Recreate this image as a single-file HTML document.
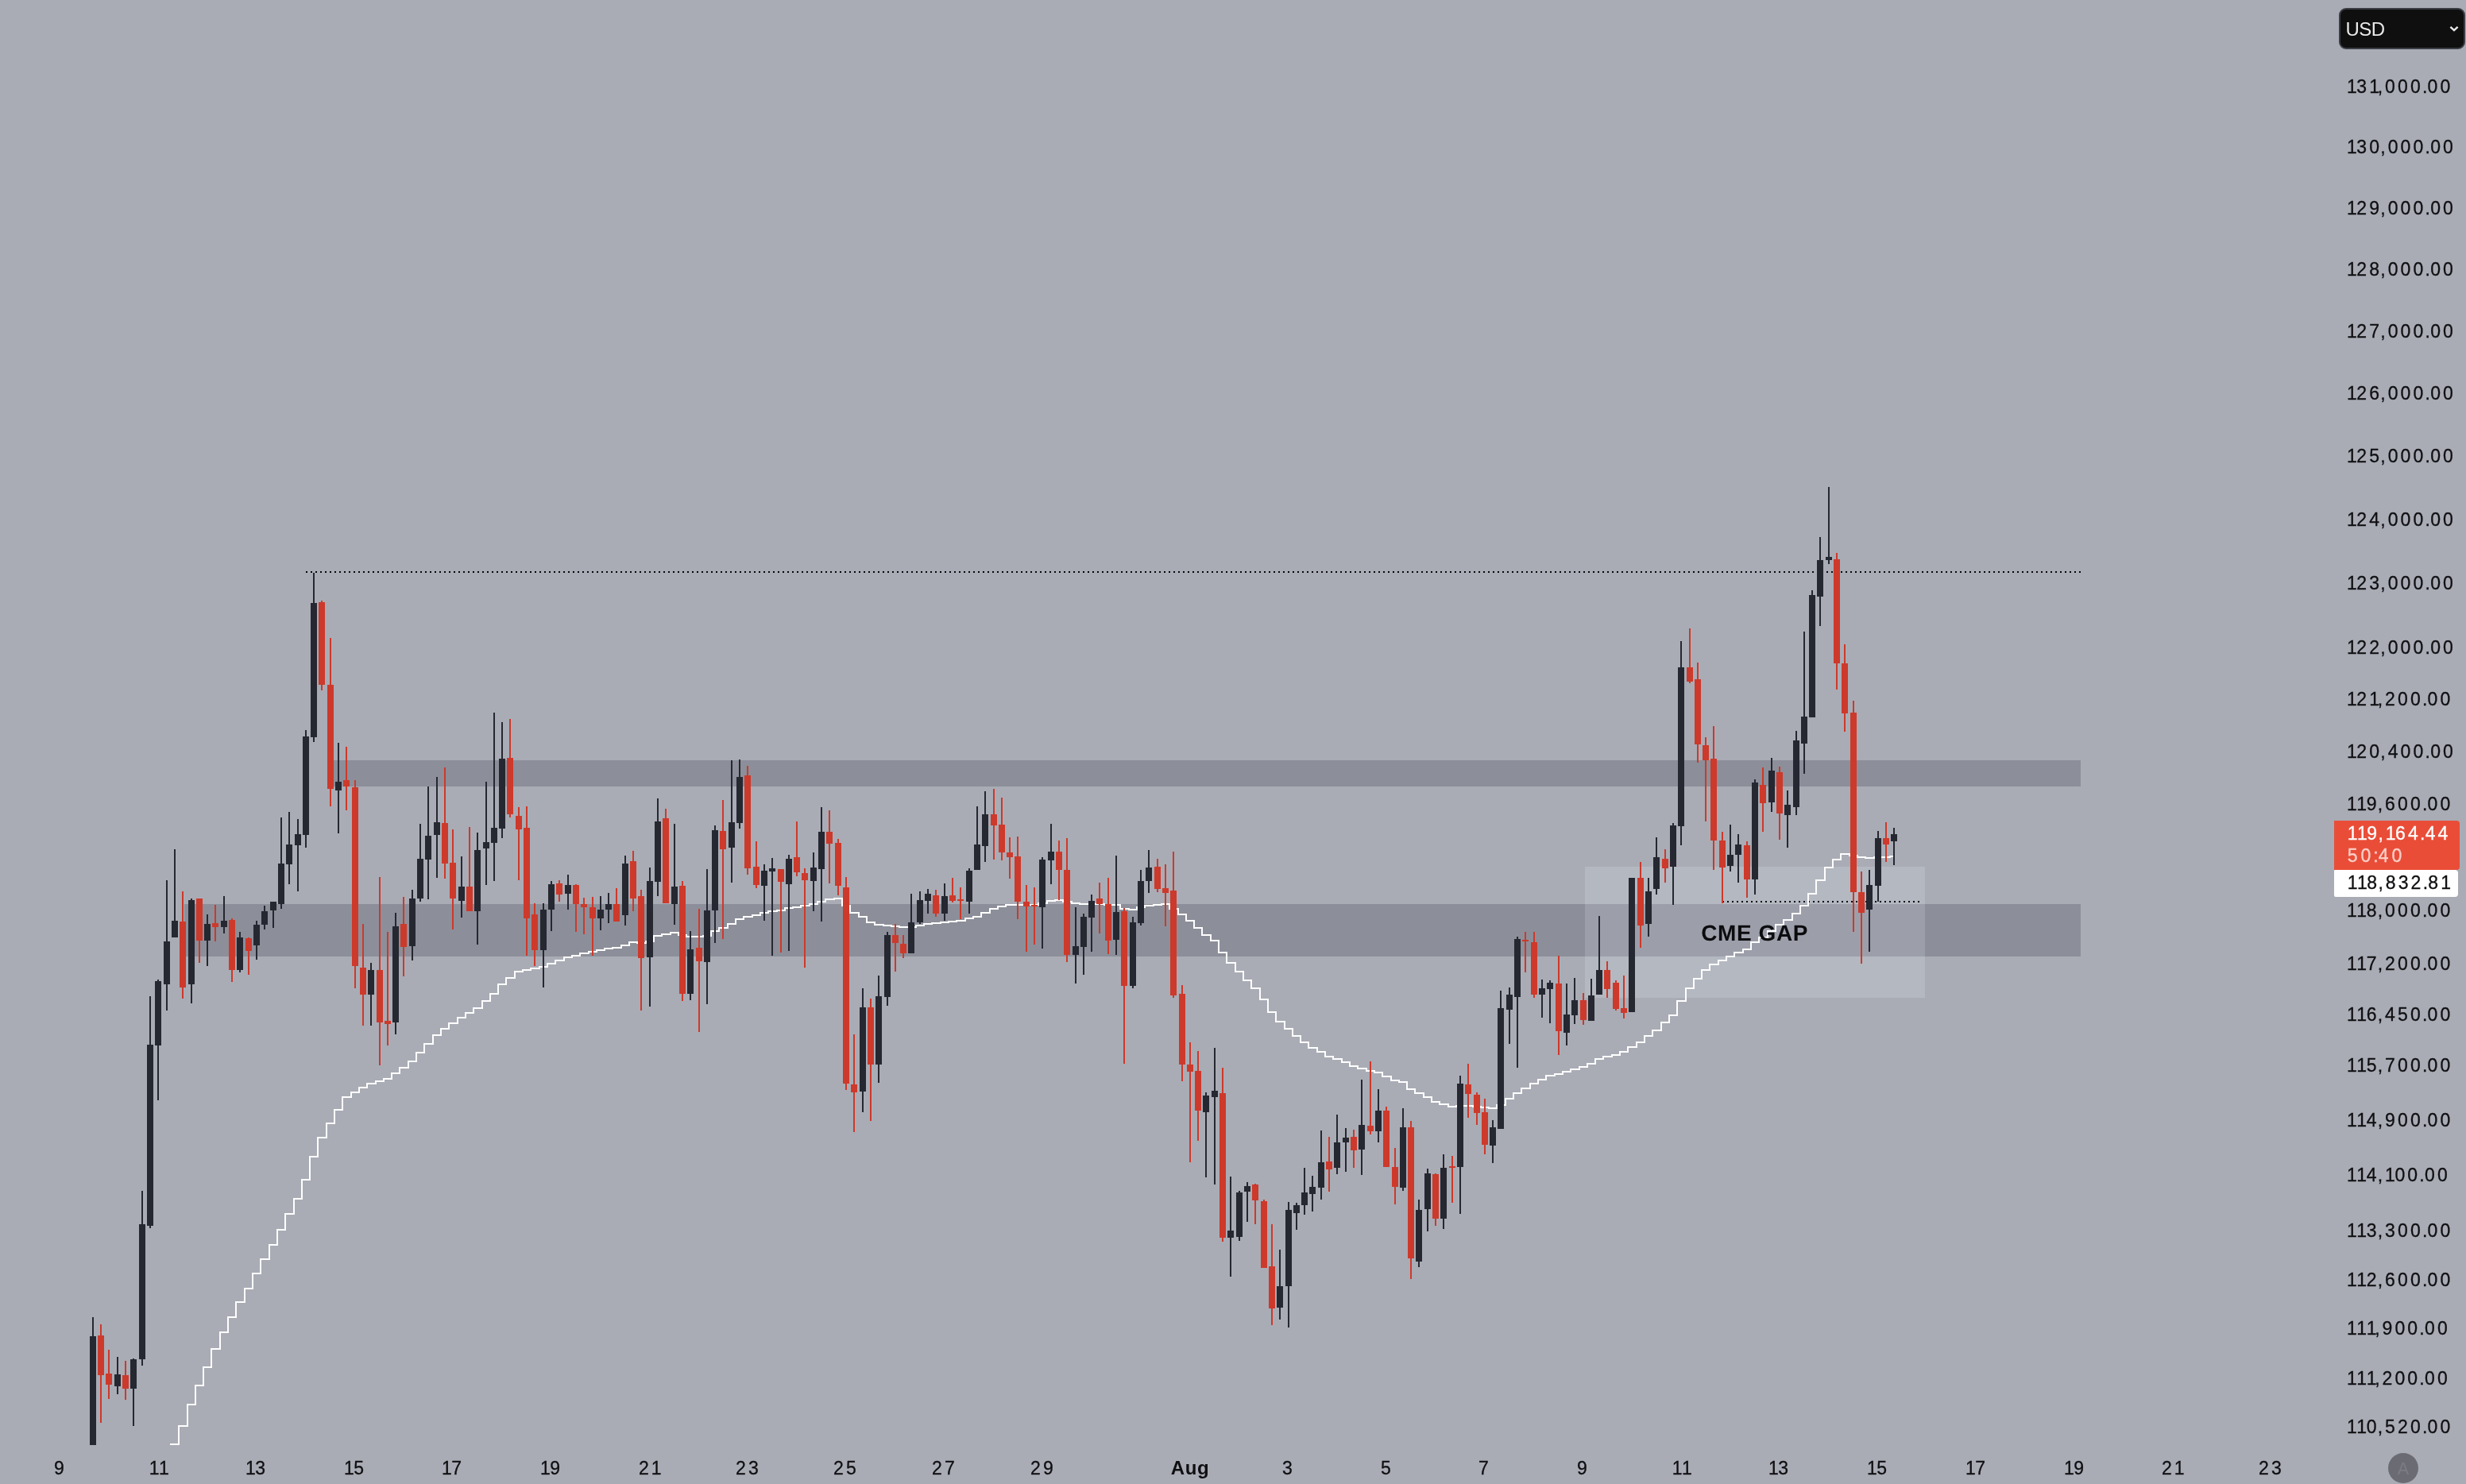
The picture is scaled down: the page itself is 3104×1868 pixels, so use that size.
<!DOCTYPE html><html><head><meta charset="utf-8"><title>chart</title><style>
html,body{margin:0;padding:0;background:#a9acb5;}
body{width:3104px;height:1868px;position:relative;overflow:hidden;font-family:"Liberation Sans",sans-serif;font-kerning:none;}
.p{position:absolute;left:2953.9px;font-size:23px;line-height:28px;height:28px;color:#0f0f12;letter-spacing:3.11px;white-space:nowrap;}
.d{position:absolute;top:1834.3px;width:120px;margin-left:-59px;text-align:center;font-size:23px;line-height:28px;color:#0f0f12;letter-spacing:3.11px;white-space:nowrap;}
.usd{position:absolute;left:2944px;top:10px;width:159px;height:52px;box-sizing:border-box;background:#0f0f0f;border:2px solid #3b3d44;border-radius:9px;color:#e9e9e9;font-size:24px;line-height:49px;padding-left:6.5px;letter-spacing:-0.6px;}
.red{position:absolute;left:2938px;top:1033px;width:158px;height:62px;background:#e94d38;border-radius:0 4px 4px 0;color:#fff;}
.red div{position:absolute;left:16.7px;font-size:23px;line-height:28px;letter-spacing:3.11px;white-space:nowrap;}
.wht{position:absolute;left:2938px;top:1095px;width:156px;height:34px;background:#fff;border-radius:1px 4px 4px 2px;color:#0f0f12;}
.wht div{position:absolute;left:16.7px;top:2px;font-size:23px;line-height:28px;letter-spacing:3.11px;white-space:nowrap;}
.cme{position:absolute;left:2108px;top:1159px;width:200px;text-align:center;font-weight:bold;font-size:25.5px;line-height:30px;letter-spacing:2.2px;color:#0c0c0f;white-space:nowrap;}
.a{position:absolute;left:3006px;top:1829px;width:38px;height:38px;border-radius:19px;background:#6b6c73;color:#7b7c84;font-size:21.5px;line-height:40px;text-align:center;}

.p,.d,.usd,.red,.wht,.cme,.a{will-change:transform;}
i{font-style:normal;letter-spacing:-0.49px}u{text-decoration:none;letter-spacing:0.28px;margin-left:-0.9px}s{text-decoration:none;letter-spacing:2.98px;margin-left:-1.8px}.p,.d,.red div,.wht div{-webkit-text-stroke:0.3px currentColor}
</style></head><body>
<svg width="3104" height="1868" viewBox="0 0 3104 1868" style="position:absolute;left:0;top:0;will-change:transform">
<defs><clipPath id="pane"><rect x="0" y="0" width="2930" height="1819"/></clipPath></defs>
<g clip-path="url(#pane)" shape-rendering="crispEdges">
<rect x="420" y="957" width="2199" height="33" fill="#8c8f99"/>
<rect x="232" y="1138" width="2387" height="66" fill="#8c8f99"/>
<rect x="1995" y="1091" width="428" height="165" fill="#f0f4ff" fill-opacity="0.17"/>
<g stroke="#050508" stroke-width="2" stroke-dasharray="2 4">
<line x1="385" y1="720" x2="2619" y2="720"/>
<line x1="2168" y1="1135" x2="2416" y2="1135"/>
</g>
<path d="M214 1818H225V1795H236V1768H246V1744H256V1721H266V1698H277V1677H287V1658H297V1639H308V1622H318V1603H328V1585H339V1567H349V1548H359V1528H370V1509H380V1485H390V1456H400V1432H411V1414H421V1397H431V1381H442V1375H452V1369H462V1364H473V1361H483V1358H493V1351H503V1344H514V1336H524V1325H534V1314H545V1303H555V1295H565V1288H576V1281H586V1275H596V1269H607V1260H617V1251H627V1239H637V1231H648V1223H658V1221H668V1219H679V1217H689V1213H699V1209H710V1205H720V1203H730V1200H741V1198H751V1196H761V1194H771V1193H782V1190H792V1186H802V1187H813V1185H823V1178H833V1176H844V1174H854V1177H864V1179H875V1179H885V1178H895V1172H905V1168H916V1163H926V1157H936V1154H947V1152H957V1149H967V1147H978V1146H988V1143H998V1142H1008V1140H1019V1138H1029V1135H1039V1132H1050V1131H1060V1140H1070V1149H1081V1154H1091V1161H1101V1164H1112V1165H1122V1166H1132V1167H1142V1167H1153V1165H1163V1163H1173V1162H1184V1161H1194V1160H1204V1159H1215V1156H1225V1154H1235V1149H1246V1144H1256V1141H1266V1139H1276V1139H1287V1139H1297V1139H1307V1137H1318V1134H1328V1133H1338V1135H1349V1137H1359V1138H1369V1138H1379V1138H1390V1139H1400V1139H1410V1144H1421V1145H1431V1142H1441V1140H1452V1139H1462V1138H1472V1144H1483V1151H1493V1159H1503V1168H1513V1177H1524V1184H1534V1199H1544V1212H1555V1223H1565V1234H1575V1244H1586V1258H1596V1274H1606V1286H1617V1295H1627V1304H1637V1312H1647V1319H1658V1324H1668V1330H1678V1333H1689V1337H1699V1342H1709V1345H1720V1348H1730V1350H1740V1355H1751V1360H1761V1362H1771V1371H1781V1376H1792V1381H1802V1387H1812V1390H1823V1393H1833V1392H1843V1392H1854V1393H1864V1394H1874V1395H1884V1391H1895V1383H1905V1376H1915V1370H1926V1364H1936V1359H1946V1354H1957V1352H1967V1349H1977V1346H1988V1343H1998V1339H2008V1333H2018V1330H2029V1328H2039V1324H2049V1318H2060V1312H2070V1304H2080V1297H2091V1287H2101V1278H2111V1260H2122V1244H2132V1232H2142V1221H2152V1214H2163V1209H2173V1204H2183V1199H2194V1195H2204V1186H2214V1180H2225V1172H2235V1164H2245V1158H2256V1150H2266V1140H2276V1125H2286V1108H2297V1092H2307V1082H2317V1075H2328V1077H2338V1079H2348V1080H2359V1079H2369V1079H2379V1078H2383" fill="none" stroke="#ffffff" stroke-width="2" stroke-linejoin="miter"/>
<text x="2208.6" y="1183.7" text-anchor="middle" font-family="Liberation Sans, sans-serif" font-weight="bold" font-size="28" letter-spacing="0.6" fill="#0c0c0f" style="shape-rendering:auto;text-rendering:geometricPrecision">CME GAP</text>
<path fill="#252831" d="M116 1658h2V1819h-2zM147 1708h2V1755h-2zM167 1710h2V1795h-2zM178 1499h2V1719h-2zM188 1254h2V1546h-2zM198 1233h2V1385h-2zM209 1108h2V1272h-2zM219 1069h2V1180h-2zM240 1131h2V1263h-2zM260 1151h2V1216h-2zM281 1128h2V1175h-2zM301 1173h2V1224h-2zM322 1159h2V1208h-2zM332 1140h2V1170h-2zM343 1135h2V1168h-2zM353 1029h2V1144h-2zM363 1022h2V1113h-2zM374 1031h2V1122h-2zM384 919h2V1067h-2zM394 721h2V934h-2zM425 935h2V1049h-2zM466 1212h2V1291h-2zM497 1149h2V1302h-2zM518 1120h2V1209h-2zM528 1037h2V1135h-2zM538 990h2V1132h-2zM549 978h2V1105h-2zM580 1078h2V1155h-2zM600 1048h2V1189h-2zM611 984h2V1114h-2zM621 897h2V1109h-2zM631 909h2V1055h-2zM683 1137h2V1243h-2zM693 1109h2V1172h-2zM714 1101h2V1145h-2zM755 1128h2V1171h-2zM765 1124h2V1162h-2zM786 1077h2V1165h-2zM817 1092h2V1267h-2zM827 1005h2V1128h-2zM848 1037h2V1164h-2zM868 1172h2V1259h-2zM889 1094h2V1264h-2zM899 1039h2V1187h-2zM920 957h2V1111h-2zM930 956h2V1043h-2zM961 1088h2V1159h-2zM971 1080h2V1203h-2zM992 1076h2V1197h-2zM1023 1073h2V1147h-2zM1033 1016h2V1160h-2zM1085 1244h2V1400h-2zM1105 1228h2V1363h-2zM1116 1173h2V1266h-2zM1146 1125h2V1200h-2zM1157 1122h2V1163h-2zM1167 1119h2V1150h-2zM1188 1112h2V1159h-2zM1219 1093h2V1150h-2zM1229 1015h2V1095h-2zM1239 996h2V1085h-2zM1311 1079h2V1194h-2zM1322 1037h2V1113h-2zM1353 1142h2V1238h-2zM1363 1150h2V1227h-2zM1373 1126h2V1198h-2zM1404 1077h2V1202h-2zM1425 1154h2V1244h-2zM1435 1095h2V1165h-2zM1445 1070h2V1124h-2zM1517 1375h2V1482h-2zM1528 1319h2V1491h-2zM1548 1481h2V1607h-2zM1559 1499h2V1562h-2zM1569 1488h2V1538h-2zM1610 1573h2V1661h-2zM1621 1513h2V1671h-2zM1631 1514h2V1548h-2zM1641 1470h2V1529h-2zM1651 1480h2V1525h-2zM1662 1423h2V1510h-2zM1682 1403h2V1478h-2zM1693 1420h2V1475h-2zM1713 1359h2V1479h-2zM1734 1371h2V1438h-2zM1765 1395h2V1499h-2zM1785 1510h2V1595h-2zM1796 1471h2V1550h-2zM1816 1453h2V1547h-2zM1837 1354h2V1528h-2zM1878 1410h2V1464h-2zM1888 1247h2V1421h-2zM1899 1243h2V1314h-2zM1909 1179h2V1344h-2zM1940 1233h2V1281h-2zM1950 1234h2V1288h-2zM1971 1238h2V1316h-2zM1981 1231h2V1289h-2zM2002 1232h2V1285h-2zM2012 1153h2V1252h-2zM2053 1105h2V1274h-2zM2074 1105h2V1179h-2zM2084 1054h2V1126h-2zM2105 1036h2V1139h-2zM2115 807h2V1064h-2zM2177 1038h2V1097h-2zM2187 1050h2V1111h-2zM2208 981h2V1126h-2zM2229 954h2V1022h-2zM2249 995h2V1067h-2zM2260 920h2V1026h-2zM2270 795h2V974h-2zM2280 743h2V903h-2zM2290 676h2V788h-2zM2301 613h2V710h-2zM2352 1095h2V1198h-2zM2363 1046h2V1135h-2zM2383 1042h2V1089h-2zM113 1682h8V1819h-8zM144 1730h8V1745h-8zM164 1711h8V1748h-8zM175 1541h8V1711h-8zM185 1315h8V1543h-8zM195 1235h8V1316h-8zM206 1185h8V1239h-8zM216 1159h8V1180h-8zM237 1133h8V1239h-8zM257 1163h8V1184h-8zM278 1159h8V1167h-8zM298 1180h8V1221h-8zM319 1164h8V1190h-8zM329 1147h8V1164h-8zM340 1135h8V1146h-8zM350 1087h8V1138h-8zM360 1063h8V1088h-8zM371 1050h8V1064h-8zM381 927h8V1051h-8zM391 759h8V928h-8zM422 984h8V995h-8zM463 1221h8V1252h-8zM494 1166h8V1287h-8zM515 1131h8V1191h-8zM525 1081h8V1131h-8zM535 1052h8V1082h-8zM546 1035h8V1051h-8zM577 1116h8V1134h-8zM597 1070h8V1147h-8zM608 1060h8V1068h-8zM618 1042h8V1061h-8zM628 955h8V1043h-8zM680 1145h8V1196h-8zM690 1113h8V1145h-8zM711 1114h8V1125h-8zM752 1145h8V1156h-8zM762 1138h8V1145h-8zM783 1087h8V1152h-8zM814 1109h8V1205h-8zM824 1034h8V1110h-8zM845 1116h8V1138h-8zM865 1195h8V1251h-8zM886 1146h8V1211h-8zM896 1045h8V1146h-8zM917 1035h8V1067h-8zM927 978h8V1036h-8zM958 1096h8V1115h-8zM968 1093h8V1097h-8zM989 1081h8V1113h-8zM1020 1092h8V1109h-8zM1030 1047h8V1094h-8zM1082 1268h8V1374h-8zM1102 1254h8V1340h-8zM1113 1177h8V1255h-8zM1143 1161h8V1200h-8zM1154 1133h8V1161h-8zM1164 1125h8V1134h-8zM1185 1128h8V1150h-8zM1216 1096h8V1135h-8zM1226 1063h8V1095h-8zM1236 1025h8V1065h-8zM1308 1082h8V1142h-8zM1319 1072h8V1083h-8zM1350 1191h8V1202h-8zM1360 1154h8V1192h-8zM1370 1134h8V1155h-8zM1401 1148h8V1183h-8zM1422 1161h8V1241h-8zM1432 1109h8V1162h-8zM1442 1092h8V1109h-8zM1514 1379h8V1400h-8zM1525 1373h8V1381h-8zM1545 1549h8V1558h-8zM1556 1501h8V1557h-8zM1566 1493h8V1500h-8zM1607 1619h8V1646h-8zM1618 1523h8V1619h-8zM1628 1517h8V1527h-8zM1638 1501h8V1517h-8zM1648 1494h8V1503h-8zM1659 1463h8V1495h-8zM1679 1438h8V1470h-8zM1690 1432h8V1438h-8zM1710 1416h8V1447h-8zM1731 1398h8V1424h-8zM1762 1419h8V1495h-8zM1782 1523h8V1588h-8zM1793 1477h8V1522h-8zM1813 1470h8V1534h-8zM1834 1364h8V1469h-8zM1875 1419h8V1442h-8zM1885 1269h8V1421h-8zM1896 1252h8V1271h-8zM1906 1182h8V1255h-8zM1937 1244h8V1252h-8zM1947 1237h8V1245h-8zM1968 1277h8V1300h-8zM1978 1259h8V1278h-8zM1999 1253h8V1285h-8zM2009 1221h8V1252h-8zM2050 1105h8V1274h-8zM2071 1122h8V1163h-8zM2081 1079h8V1119h-8zM2102 1039h8V1091h-8zM2112 840h8V1040h-8zM2174 1076h8V1090h-8zM2184 1063h8V1076h-8zM2205 985h8V1107h-8zM2226 970h8V1010h-8zM2246 1013h8V1026h-8zM2257 932h8V1016h-8zM2267 902h8V936h-8zM2277 749h8V903h-8zM2287 705h8V751h-8zM2298 701h8V705h-8zM2349 1114h8V1145h-8zM2360 1055h8V1115h-8zM2380 1050h8V1059h-8z"/>
<path fill="#cd392b" d="M126 1667h2V1791h-2zM136 1699h2V1761h-2zM157 1713h2V1762h-2zM229 1122h2V1257h-2zM250 1131h2V1212h-2zM270 1139h2V1185h-2zM291 1156h2V1236h-2zM312 1180h2V1227h-2zM404 756h2V869h-2zM415 803h2V1015h-2zM435 940h2V1020h-2zM446 982h2V1244h-2zM456 1163h2V1291h-2zM477 1104h2V1341h-2zM487 1173h2V1316h-2zM507 1129h2V1229h-2zM559 966h2V1106h-2zM569 1044h2V1170h-2zM590 1041h2V1147h-2zM641 905h2V1029h-2zM652 1016h2V1108h-2zM662 1015h2V1203h-2zM672 1137h2V1216h-2zM703 1108h2V1135h-2zM724 1113h2V1173h-2zM734 1130h2V1176h-2zM745 1129h2V1203h-2zM775 1118h2V1160h-2zM796 1071h2V1147h-2zM806 1120h2V1272h-2zM837 1018h2V1137h-2zM858 1109h2V1260h-2zM879 1144h2V1299h-2zM909 1007h2V1182h-2zM940 964h2V1101h-2zM951 1059h2V1118h-2zM982 1094h2V1199h-2zM1002 1034h2V1103h-2zM1012 1093h2V1218h-2zM1043 1020h2V1112h-2zM1054 1056h2V1127h-2zM1064 1104h2V1372h-2zM1074 1302h2V1425h-2zM1095 1257h2V1411h-2zM1126 1163h2V1223h-2zM1136 1177h2V1206h-2zM1177 1120h2V1154h-2zM1198 1105h2V1136h-2zM1208 1117h2V1157h-2zM1250 993h2V1082h-2zM1260 1004h2V1083h-2zM1270 1054h2V1106h-2zM1280 1053h2V1157h-2zM1291 1114h2V1198h-2zM1301 1117h2V1189h-2zM1332 1058h2V1133h-2zM1342 1055h2V1211h-2zM1383 1111h2V1175h-2zM1394 1105h2V1201h-2zM1414 1143h2V1339h-2zM1456 1081h2V1123h-2zM1466 1088h2V1166h-2zM1476 1072h2V1256h-2zM1487 1240h2V1361h-2zM1497 1312h2V1463h-2zM1507 1323h2V1436h-2zM1538 1344h2V1563h-2zM1579 1490h2V1541h-2zM1590 1510h2V1596h-2zM1600 1541h2V1668h-2zM1672 1431h2V1500h-2zM1703 1422h2V1470h-2zM1724 1336h2V1428h-2zM1744 1393h2V1469h-2zM1755 1445h2V1516h-2zM1775 1411h2V1610h-2zM1806 1477h2V1543h-2zM1827 1455h2V1514h-2zM1847 1339h2V1407h-2zM1858 1375h2V1416h-2zM1868 1383h2V1453h-2zM1919 1173h2V1224h-2zM1930 1173h2V1256h-2zM1961 1203h2V1328h-2zM1992 1250h2V1290h-2zM2022 1210h2V1256h-2zM2033 1234h2V1272h-2zM2043 1228h2V1282h-2zM2064 1085h2V1193h-2zM2095 1069h2V1111h-2zM2126 791h2V860h-2zM2136 834h2V960h-2zM2146 928h2V1034h-2zM2156 914h2V1095h-2zM2167 1047h2V1137h-2zM2198 1059h2V1130h-2zM2218 966h2V1047h-2zM2239 965h2V1057h-2zM2311 696h2V868h-2zM2321 811h2V921h-2zM2332 882h2V1173h-2zM2342 1097h2V1213h-2zM2373 1035h2V1085h-2zM123 1681h8V1731h-8zM133 1729h8V1743h-8zM154 1731h8V1748h-8zM226 1160h8V1243h-8zM247 1131h8V1184h-8zM267 1162h8V1167h-8zM288 1158h8V1221h-8zM309 1181h8V1197h-8zM401 758h8V862h-8zM412 862h8V993h-8zM432 982h8V990h-8zM443 991h8V1216h-8zM453 1218h8V1252h-8zM474 1221h8V1287h-8zM484 1285h8V1289h-8zM504 1163h8V1192h-8zM556 1036h8V1087h-8zM566 1086h8V1131h-8zM587 1116h8V1147h-8zM638 954h8V1025h-8zM649 1027h8V1044h-8zM659 1042h8V1156h-8zM669 1151h8V1196h-8zM700 1112h8V1126h-8zM721 1114h8V1138h-8zM731 1138h8V1142h-8zM742 1142h8V1156h-8zM772 1138h8V1160h-8zM793 1084h8V1131h-8zM803 1128h8V1206h-8zM834 1030h8V1137h-8zM855 1115h8V1251h-8zM876 1193h8V1210h-8zM906 1046h8V1069h-8zM937 976h8V1093h-8zM948 1091h8V1114h-8zM979 1094h8V1110h-8zM999 1079h8V1098h-8zM1009 1099h8V1108h-8zM1040 1047h8V1062h-8zM1051 1061h8V1115h-8zM1061 1117h8V1364h-8zM1071 1365h8V1375h-8zM1092 1268h8V1340h-8zM1123 1177h8V1187h-8zM1133 1188h8V1200h-8zM1174 1127h8V1150h-8zM1195 1127h8V1134h-8zM1205 1132h8V1134h-8zM1247 1025h8V1039h-8zM1257 1038h8V1073h-8zM1267 1073h8V1079h-8zM1277 1078h8V1135h-8zM1288 1135h8V1141h-8zM1298 1139h8V1141h-8zM1329 1072h8V1095h-8zM1339 1095h8V1202h-8zM1380 1131h8V1138h-8zM1391 1138h8V1184h-8zM1411 1147h8V1241h-8zM1453 1091h8V1119h-8zM1463 1118h8V1124h-8zM1473 1121h8V1253h-8zM1484 1251h8V1340h-8zM1494 1340h8V1349h-8zM1504 1348h8V1398h-8zM1535 1376h8V1558h-8zM1576 1491h8V1511h-8zM1587 1512h8V1596h-8zM1597 1594h8V1647h-8zM1669 1462h8V1472h-8zM1700 1431h8V1448h-8zM1721 1417h8V1424h-8zM1741 1398h8V1469h-8zM1752 1469h8V1494h-8zM1772 1419h8V1584h-8zM1803 1478h8V1534h-8zM1824 1468h8V1470h-8zM1844 1365h8V1377h-8zM1855 1378h8V1401h-8zM1865 1400h8V1441h-8zM1916 1183h8V1185h-8zM1927 1186h8V1252h-8zM1958 1238h8V1298h-8zM1989 1259h8V1284h-8zM2019 1221h8V1245h-8zM2030 1237h8V1270h-8zM2040 1269h8V1275h-8zM2061 1105h8V1165h-8zM2092 1081h8V1093h-8zM2123 840h8V858h-8zM2133 855h8V937h-8zM2143 938h8V957h-8zM2153 955h8V1058h-8zM2164 1058h8V1092h-8zM2195 1064h8V1107h-8zM2215 988h8V1011h-8zM2236 972h8V1024h-8zM2308 704h8V835h-8zM2318 835h8V898h-8zM2329 897h8V1123h-8zM2339 1123h8V1149h-8zM2370 1055h8V1063h-8z"/>
</g>
</svg>
<div class="usd">USD</div>
<svg width="20" height="14" viewBox="0 0 20 14" style="position:absolute;left:3079px;top:29px"><path d="M5.4 4.8 L10 9.2 L14.6 4.8" fill="none" stroke="#e6e6e6" stroke-width="2.4"/></svg>
<div class="p" style="top:94.8px"><i>1</i>3<i>1</i><s>,</s>000<u>.</u>00</div>
<div class="p" style="top:171.3px"><i>1</i>30<s>,</s>000<u>.</u>00</div>
<div class="p" style="top:248.1px"><i>1</i>29<s>,</s>000<u>.</u>00</div>
<div class="p" style="top:324.6px"><i>1</i>28<s>,</s>000<u>.</u>00</div>
<div class="p" style="top:403.4px"><i>1</i>27<s>,</s>000<u>.</u>00</div>
<div class="p" style="top:480.9px"><i>1</i>26<s>,</s>000<u>.</u>00</div>
<div class="p" style="top:559.9px"><i>1</i>25<s>,</s>000<u>.</u>00</div>
<div class="p" style="top:639.7px"><i>1</i>24<s>,</s>000<u>.</u>00</div>
<div class="p" style="top:719.7px"><i>1</i>23<s>,</s>000<u>.</u>00</div>
<div class="p" style="top:801.3px"><i>1</i>22<s>,</s>000<u>.</u>00</div>
<div class="p" style="top:866.1px"><i>1</i>2<i>1</i><s>,</s>200<u>.</u>00</div>
<div class="p" style="top:931.8px"><i>1</i>20<s>,</s>400<u>.</u>00</div>
<div class="p" style="top:998.2px"><i>1</i><i>1</i>9<s>,</s>600<u>.</u>00</div>
<div class="p" style="top:1131.6px"><i>1</i><i>1</i>8<s>,</s>000<u>.</u>00</div>
<div class="p" style="top:1199.0px"><i>1</i><i>1</i>7<s>,</s>200<u>.</u>00</div>
<div class="p" style="top:1262.8px"><i>1</i><i>1</i>6<s>,</s>450<u>.</u>00</div>
<div class="p" style="top:1326.7px"><i>1</i><i>1</i>5<s>,</s>700<u>.</u>00</div>
<div class="p" style="top:1395.7px"><i>1</i><i>1</i>4<s>,</s>900<u>.</u>00</div>
<div class="p" style="top:1465.3px"><i>1</i><i>1</i>4<s>,</s><i>1</i>00<u>.</u>00</div>
<div class="p" style="top:1535.1px"><i>1</i><i>1</i>3<s>,</s>300<u>.</u>00</div>
<div class="p" style="top:1596.6px"><i>1</i><i>1</i>2<s>,</s>600<u>.</u>00</div>
<div class="p" style="top:1658.1px"><i>1</i><i>1</i><i>1</i><s>,</s>900<u>.</u>00</div>
<div class="p" style="top:1720.6px"><i>1</i><i>1</i><i>1</i><s>,</s>200<u>.</u>00</div>
<div class="p" style="top:1782.1px"><i>1</i><i>1</i>0<s>,</s>520<u>.</u>00</div>
<div class="red"><div style="top:2px"><i>1</i><i>1</i>9<s>,</s><i>1</i>64<u>.</u>44</div><div style="top:29.7px;color:#fbd0c9;letter-spacing:3.9px">50<u>:</u>40</div></div>
<div class="wht"><div><i>1</i><i>1</i>8<s>,</s>832<u>.</u>8<i>1</i></div></div>
<div class="d" style="left:74.6px">9</div>
<div class="d" style="left:199.0px"><i>1</i><i>1</i></div>
<div class="d" style="left:322.2px"><i>1</i>3</div>
<div class="d" style="left:445.8px"><i>1</i>5</div>
<div class="d" style="left:569.4px"><i>1</i>7</div>
<div class="d" style="left:693.0px"><i>1</i>9</div>
<div class="d" style="left:817.0px">2<i>1</i></div>
<div class="d" style="left:940.5px">23</div>
<div class="d" style="left:1064.2px">25</div>
<div class="d" style="left:1187.9px">27</div>
<div class="d" style="left:1311.6px">29</div>
<div class="d" style="left:1497.2px;font-weight:bold"><span style='letter-spacing:0.6px;-webkit-text-stroke:0;font-size:24px'>Aug</span></div>
<div class="d" style="left:1620.9px">3</div>
<div class="d" style="left:1744.6px">5</div>
<div class="d" style="left:1868.3px">7</div>
<div class="d" style="left:1992.0px">9</div>
<div class="d" style="left:2115.7px"><i>1</i><i>1</i></div>
<div class="d" style="left:2239.4px"><i>1</i>3</div>
<div class="d" style="left:2363.1px"><i>1</i>5</div>
<div class="d" style="left:2486.8px"><i>1</i>7</div>
<div class="d" style="left:2610.5px"><i>1</i>9</div>
<div class="d" style="left:2734.2px">2<i>1</i></div>
<div class="d" style="left:2857.9px">23</div>
<div class="a">A</div>
</body></html>
